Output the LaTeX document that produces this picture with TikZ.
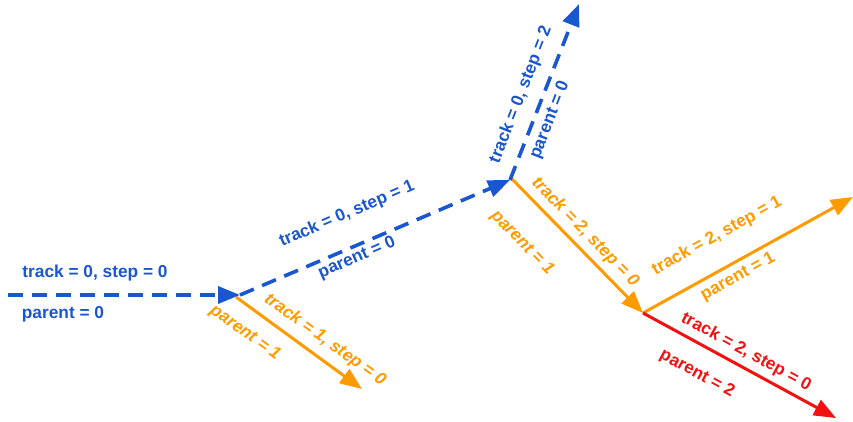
\documentclass[tikz,border=0pt]{standalone}
\usepackage{fontspec}
\setmainfont{Liberation Sans}
\usetikzlibrary{arrows.meta}
\definecolor{cblue}{HTML}{1A56D0}
\definecolor{corange}{HTML}{FF9A00}
\definecolor{cred}{HTML}{F21010}
\begin{document}
\begin{tikzpicture}[x=1pt,y=-1pt,
  tip/.style={-{Triangle[length=22pt,width=17pt]}},
  bluearrow/.style={tip, cblue, line width=3.6pt, dash pattern=on 15pt off 9pt},
  orangearrow/.style={tip, corange, line width=3pt},
  redarrow/.style={tip, cred, line width=3pt},
  lbl/.style={font=\fontsize{17.3}{19}\selectfont\bfseries, inner sep=0pt},
  ilbl/.style={lbl, font=\fontsize{17.3}{19}\selectfont\bfseries\itshape}]
\useasboundingbox (0,0) rectangle (853,422);
\coordinate (A) at (8,295);
\coordinate (B) at (240,295);
\coordinate (B2) at (236,297);
\coordinate (C) at (510,180);
\coordinate (C2) at (511,178);
\coordinate (D) at (579,4);
\coordinate (E) at (362,389);
\coordinate (F) at (643,313);
\coordinate (G) at (853,197);
\coordinate (H) at (836,418);
% arrows
\draw[orangearrow] (B2) -- (E);
\draw[orangearrow] (C2) -- (F);
\draw[orangearrow] (F) -- (G);
\draw[redarrow] (F) -- (H);
\draw[bluearrow] (A) -- (B);
\draw[bluearrow] (B) -- (C);
\draw[bluearrow] (C) -- (D);
% labels
\node[lbl, text=cblue] (l1) at (95,273) {track = 0, step = 0};
\node[lbl, text=cblue] (l2) at (63,314) {parent = 0};
\node[lbl, text=cblue, rotate=23.2] (l3) at (347,214) {track = 0, step = 1};
\node[lbl, text=cblue, rotate=23.2] (l4) at (357,258) {parent = 0};
\node[lbl, text=cblue, rotate=68.8] (l5) at (521,95) {track = 0, step = 2};
\node[lbl, text=cblue, rotate=68.8] (l6) at (550,120) {parent = 0};
\node[ilbl, text=corange, rotate=-35.8] (l7) at (325,340) {track = 1, step = 0};
\node[ilbl, text=corange, rotate=-35.8] (l8) at (245,333) {parent = 1};
\node[ilbl, text=corange, rotate=-45.6] (l9) at (585,232) {track = 2, step = 0};
\node[ilbl, text=corange, rotate=-45.6] (l10) at (522,243) {parent = 1};
\node[lbl, text=corange, rotate=28.9] (l11) at (717,236) {track = 2, step = 1};
\node[lbl, text=corange, rotate=28.9] (l12) at (738,277) {parent = 1};
\node[lbl, text=cred, rotate=-28.7] (l13) at (746,352) {track = 2, step = 0};
\node[lbl, text=cred, rotate=-28.7] (l14) at (697,374) {parent = 2};
\end{tikzpicture}
\end{document}
